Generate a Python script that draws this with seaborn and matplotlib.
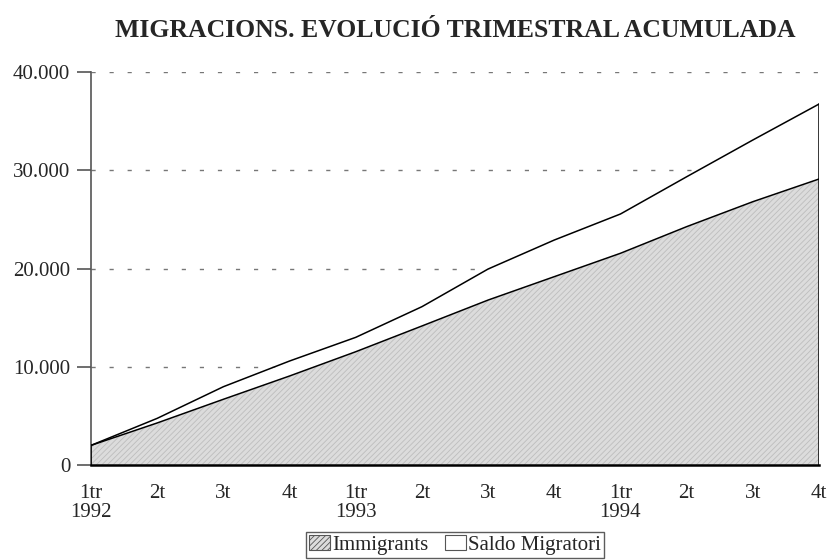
import numpy as np
import pandas as pd
import matplotlib
matplotlib.use("Agg")
import matplotlib.pyplot as plt
import seaborn as sns
from matplotlib.patches import Patch

# quarterly cumulative migration data
quarters = ["1tr\n1992", "2t", "3t", "4t",
            "1tr\n1993", "2t", "3t", "4t",
            "1tr\n1994", "2t", "3t", "4t"]
immigrants = [2000, 4280, 6690, 9060, 11530, 14150, 16790, 19170, 21550, 24260, 26800, 29110]
saldo = [0, 470, 1280, 1525, 1465, 1965, 3160, 3730, 4000, 5080, 6280, 7630]

df = pd.DataFrame({"pos": np.arange(len(quarters)),
                   "Immigrants": immigrants,
                   "Saldo Migratori": saldo})
df["Total"] = df["Immigrants"] + df["Saldo Migratori"]

sns.set_theme(style="white")
plt.rcParams["font.family"] = ["Liberation Serif", "DejaVu Serif"]
plt.rcParams["hatch.linewidth"] = 0.6

fig = plt.figure(figsize=(8.31, 5.6), dpi=100)
ax = fig.add_axes([0.1095, 0.1696, 0.8761, 0.7018])

# grid behind the areas
for v in [10000, 20000, 30000, 40000]:
    ax.axhline(v, color="#777777", lw=1, linestyle=(0, (3, 10)), zorder=0)

# stacked areas
ax.fill_between(df["pos"], 0, df["Immigrants"], facecolor="#dcdcdc",
                edgecolor="#bdbdbd", hatch="//////", linewidth=0, zorder=1)
ax.fill_between(df["pos"], df["Immigrants"], df["Total"], facecolor="white",
                linewidth=0, zorder=1)

sns.lineplot(data=df, x="pos", y="Immigrants", color="black", lw=1.1, ax=ax, zorder=3)
sns.lineplot(data=df, x="pos", y="Total", color="black", lw=1.1, ax=ax, zorder=3)
last = df["pos"].iloc[-1]
ax.plot([last, last], [0, df["Total"].iloc[-1]], color="black", lw=1.1, zorder=3)
ax.plot([0, 0], [0, df["Immigrants"].iloc[0]], color="black", lw=1.1, zorder=3)

ax.set_xlim(0, last)
ax.set_ylim(0, 40000)
ax.set_xticks(df["pos"])
ax.set_xticklabels(quarters, fontsize=15, linespacing=1.0)
ax.set_yticks([0, 10000, 20000, 30000, 40000])
ax.set_yticklabels(["0", "10.000", "20.000", "30.000", "40.000"], fontsize=15)
ax.tick_params(axis="x", direction="in", length=10, width=1.2, color="#333333", pad=14)
ax.tick_params(axis="y", direction="out", length=10, width=1.2, color="#555555", pad=5, left=True)
ax.set_xlabel("")
ax.set_ylabel("")

for s in ["top", "right"]:
    ax.spines[s].set_visible(False)
ax.spines["left"].set_color("#555555")
ax.spines["left"].set_linewidth(1.2)
ax.spines["bottom"].set_color("black")
ax.spines["bottom"].set_linewidth(1.8)
ax.spines["bottom"].set_zorder(4)

fig.text(0.548, 0.945, "MIGRACIONS. EVOLUCIÓ TRIMESTRAL ACUMULADA",
         ha="center", va="center", fontsize=18.5, fontweight="bold")

handles = [Patch(facecolor="#dcdcdc", edgecolor="#555555", hatch="//////", lw=0.8, label="Immigrants"),
           Patch(facecolor="white", edgecolor="#555555", lw=0.8, label="Saldo Migratori")]
leg = fig.legend(handles=handles, loc="lower center", bbox_to_anchor=(0.5475, 0.004), ncol=2,
                 fontsize=15, frameon=True, fancybox=False, handlelength=1.0, handleheight=0.75,
                 handletextpad=0.1, columnspacing=0.8, borderpad=0.15, borderaxespad=0)
leg.get_frame().set_edgecolor("#333333")
leg.get_frame().set_linewidth(1.0)

fig.savefig("out.png", dpi=100)
